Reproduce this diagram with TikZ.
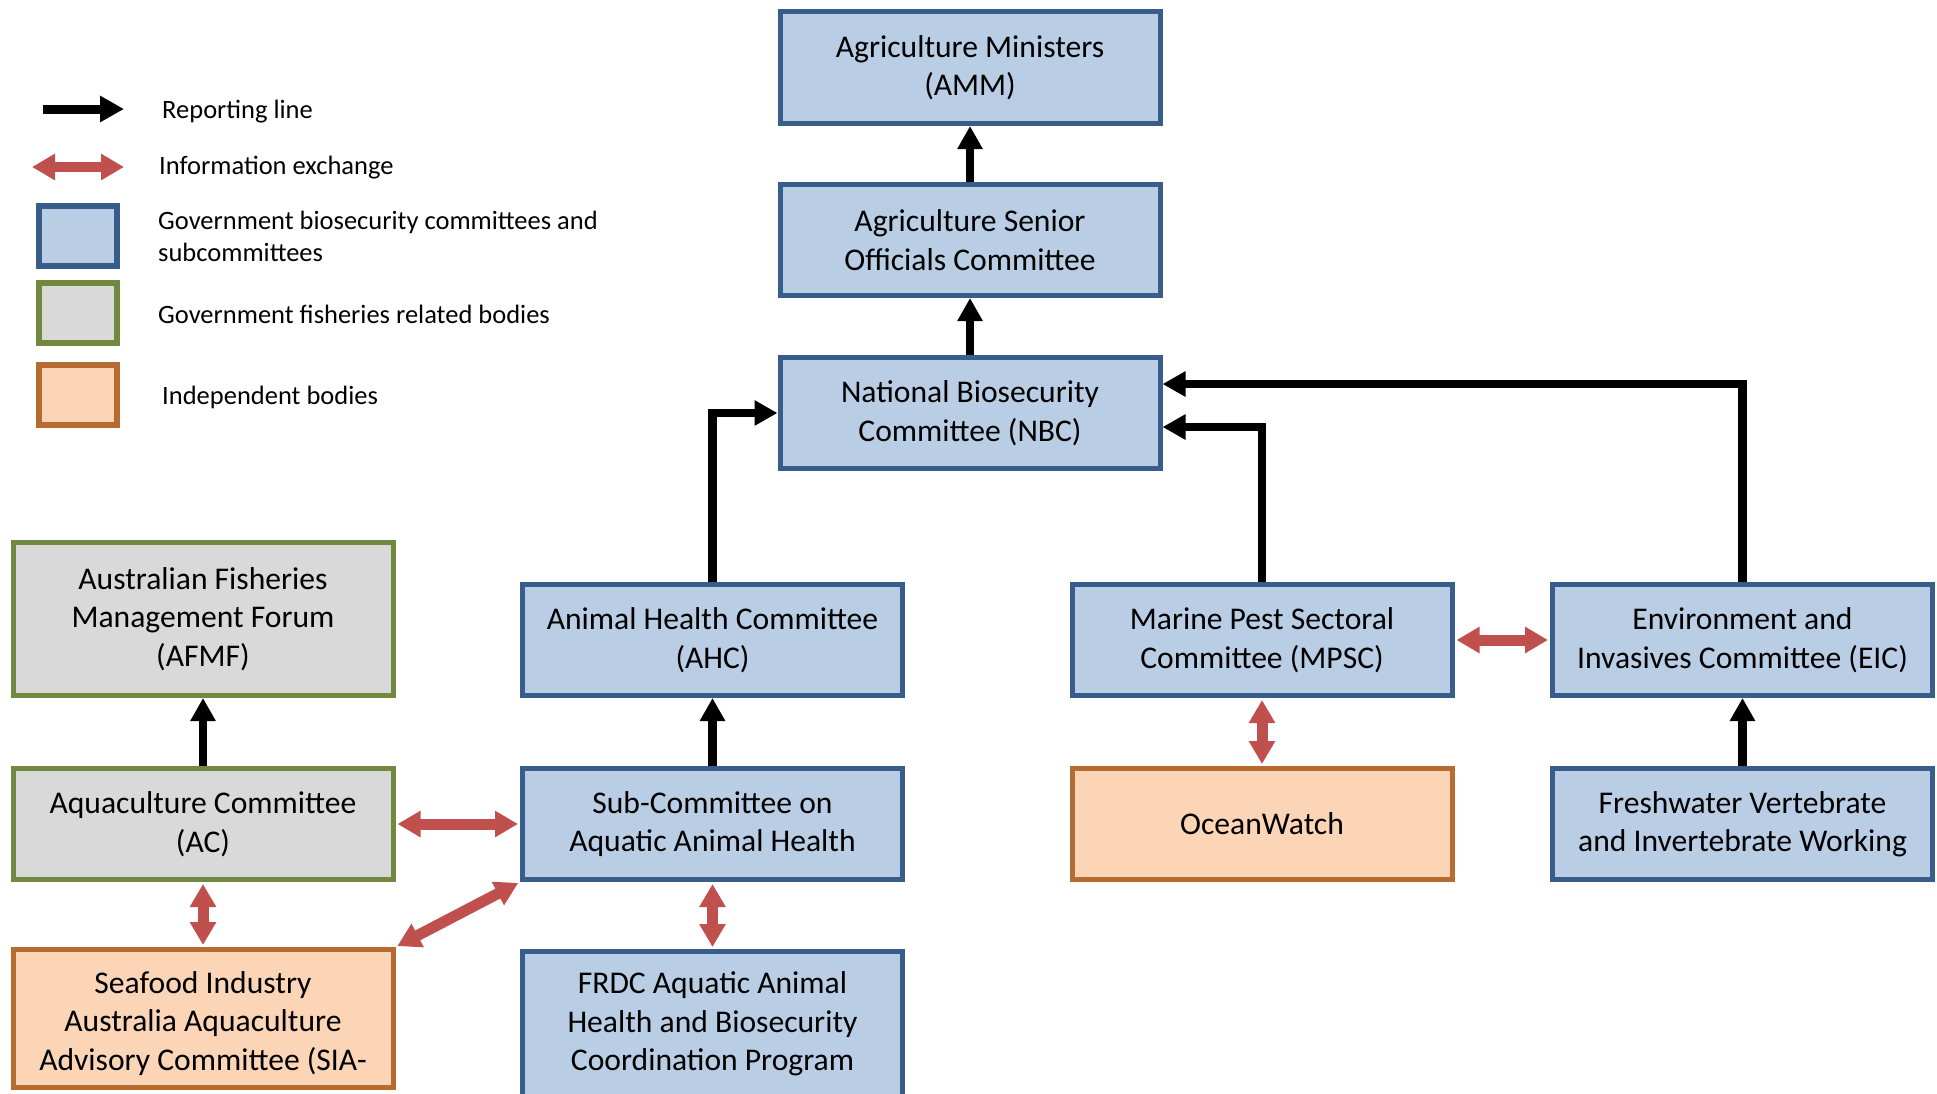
\documentclass[tikz,border=0pt]{standalone}
\usepackage{fontspec}
\setmainfont{Carlito}
\usetikzlibrary{arrows.meta,calc}
\definecolor{bborder}{RGB}{56,93,138}
\definecolor{bfill}{RGB}{185,205,229}
\definecolor{gborder}{RGB}{113,137,63}
\definecolor{gfill}{RGB}{217,217,217}
\definecolor{oborder}{RGB}{182,108,49}
\definecolor{ofill}{RGB}{251,213,181}
\definecolor{xred}{RGB}{192,80,77}
\begin{document}
\begin{tikzpicture}[x=1pt,y=-1pt,
 boxfont/.style={font=\fontsize{31.6}{38.5}\selectfont, text=black, align=center},
 box/.style={draw, line width=5pt, minimum width=380pt, minimum height=111pt, inner sep=0pt, boxfont},
 govbox/.style={box, draw=bborder, fill=bfill},
 fishbox/.style={box, draw=gborder, fill=gfill},
 indbox/.style={box, draw=oborder, fill=ofill},
 report/.style={line width=8.5pt, -{Triangle[length=23pt,width=24pt]}},
 exch/.style={line width=11pt, draw=xred, {Triangle[length=23pt,width=25pt]}-{Triangle[length=23pt,width=25pt]}, shorten <=2pt, shorten >=2pt},
 legtext/.style={anchor=west, inner sep=0pt, align=left, font=\fontsize{26.5}{32}\selectfont},
 legbox/.style={draw, line width=6pt, minimum width=78pt, minimum height=60pt, inner sep=0pt}
]
\useasboundingbox (0,0) rectangle (1937,1093);
\clip (0,0) rectangle (1937,1093);

% boxes
\node[govbox, minimum height=112pt] (AMM) at (970,67.5) {Agriculture Ministers\\(AMM)};
\node[govbox] (ASOC) at (970,240) {Agriculture Senior\\Officials Committee};
\node[govbox] (NBC) at (970,413) {National Biosecurity\\Committee (NBC)};
\node[fishbox, minimum height=153pt] (AFMF) at (203,619) {Australian Fisheries\\Management Forum\\(AFMF)};
\node[govbox] (AHC) at (712.5,640) {Animal Health Committee\\(AHC)};
\node[govbox] (MPSC) at (1262,640) {Marine Pest Sectoral\\Committee (MPSC)};
\node[govbox] (EIC) at (1742.5,640) {Environment and\\Invasives Committee (EIC)};
\node[fishbox] (AC) at (203,824) {Aquaculture Committee\\(AC)};
\node[govbox] (SCAAH) at (712.5,824) {Sub-Committee on\\Aquatic Animal Health};
\node[indbox] (OW) at (1262,824) {OceanWatch};
\node[govbox] (FVIW) at (1742.5,824) {Freshwater Vertebrate\\and Invertebrate Working};
\node[indbox, minimum height=138pt,
      label={[boxfont, inner sep=0pt, yshift=-5pt]center:Seafood Industry\\Australia Aquaculture\\Advisory Committee (SIA-}]
      (SIA) at (203,1018.5) {};
\node[govbox, minimum height=145pt] (FRDC) at (712.5,1024) {FRDC Aquatic Animal\\Health and Biosecurity\\Coordination Program};

% reporting lines
\draw[report] (ASOC.north) -- (AMM.south);
\draw[report] (NBC.north) -- (ASOC.south);
\draw[report] (AHC.north) |- (NBC.west);
\draw[report] (MPSC.north) |- ([yshift=-14pt]NBC.east);
\draw[report] (EIC.north) |- ([yshift=29pt]NBC.east);
\draw[report] (AC.north) -- (AFMF.south);
\draw[report] (SCAAH.north) -- (AHC.south);
\draw[report] (FVIW.north) -- (EIC.south);

% information exchange
\draw[exch] (AC.east) -- (SCAAH.west);
\draw[exch] (AC.south) -- (SIA.north);
\draw[exch] (SIA.north east) -- (SCAAH.south west);
\draw[exch] (SCAAH.south) -- (FRDC.north);
\draw[exch] (MPSC.east) -- (EIC.west);
\draw[exch] (MPSC.south) -- (OW.north);

% legend
\coordinate (r1) at (43,109);
\coordinate (r2) at (124,109);
\draw[line width=9pt, -{Triangle[length=24pt,width=25pt]}] (r1) -- (r2);
\coordinate (i1) at (32,167);
\coordinate (i2) at (124,167);
\draw[exch, line width=10pt, shorten <=0pt, shorten >=0pt] (i1) -- (i2);
\node[legbox, draw=bborder, fill=bfill] (Lb) at (77.5,236) {};
\node[legbox, draw=gborder, fill=gfill] (Lg) at (77.5,312.5) {};
\node[legbox, draw=oborder, fill=ofill] (Lo) at (77.5,395) {};
\node[legtext] (Lt1) at (162,111.5) {Reporting line};
\node[legtext] (Lt2) at (159,168) {Information exchange};
\node[legtext] (Lt3) at (158,236) {Government biosecurity committees and\\subcommittees};
\node[legtext] (Lt4) at (158,314) {Government fisheries related bodies};
\node[legtext] (Lt5) at (162,397) {Independent bodies};
\end{tikzpicture}
\end{document}
